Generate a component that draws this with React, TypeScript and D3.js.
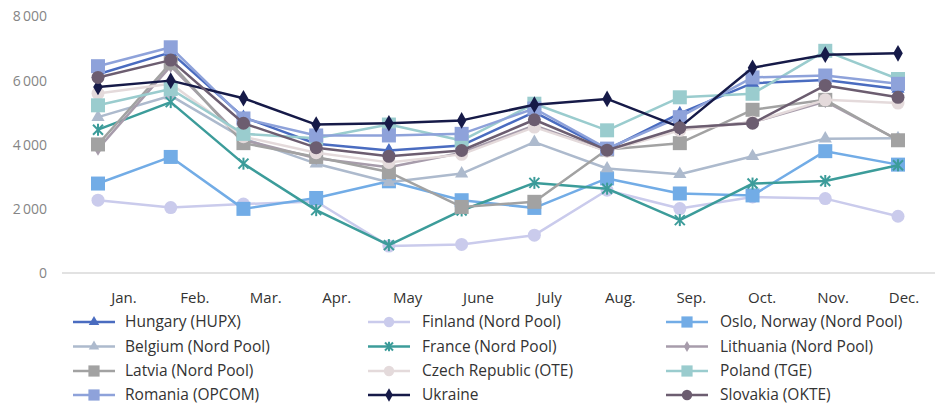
import React from "react";
import * as d3 from "d3";

const months = ["Jan.", "Feb.", "Mar.", "Apr.", "May", "June", "July", "Aug.", "Sep.", "Oct.", "Nov.", "Dec."];
const yTicks = [0, 2000, 4000, 6000, 8000];

const hungary = [6200, 6880, 4860, 4030, 3820, 3980, 5020, 3850, 4980, 5920, 6020, 5740];
const finland = [2270, 2040, 2150, 2230, 840, 890, 1180, 2580, 2010, 2370, 2320, 1770];
const oslo = [2790, 3620, 2000, 2340, 2860, 2270, 2030, 2950, 2480, 2420, 3800, 3380];
const belgium = [4860, 5530, 4200, 3410, 2830, 3100, 4080, 3260, 3080, 3640, 4190, 4200];
const france = [4470, 5330, 3410, 1960, 870, 1950, 2810, 2630, 1650, 2790, 2870, 3360];
const lithuania = [3870, 6450, 4150, 3580, 3300, 3750, 4600, 3800, 4500, 4700, 5350, 4150];
const latvia = [4010, 6550, 4050, 3620, 3150, 2060, 2220, 3850, 4050, 5090, 5400, 4140];
const czech = [5600, 5900, 4250, 3750, 3450, 3700, 4550, 3800, 4450, 4700, 5400, 5300];
const poland = [5230, 5740, 4340, 4200, 4630, 4130, 5280, 4450, 5480, 5590, 6930, 6050];
const romania = [6450, 7040, 4820, 4290, 4290, 4340, 5130, 3880, 4860, 6100, 6160, 5900];
const ukraine = [5800, 6000, 5450, 4630, 4670, 4760, 5250, 5430, 4550, 6400, 6810, 6850];
const slovakia = [6100, 6640, 4670, 3910, 3640, 3820, 4780, 3830, 4530, 4670, 5850, 5480];

type Shape = "triangle" | "circle" | "square" | "x" | "diamond" | "diamondSmall";
interface Series { name: string; values: number[]; color: string; shape: Shape; }

const series: Series[] = [
  { name: "Hungary (HUPX)", values: hungary, color: "#4a6cc0", shape: "triangle" },
  { name: "Finland (Nord Pool)", values: finland, color: "#cacbec", shape: "circle" },
  { name: "Oslo, Norway (Nord Pool)", values: oslo, color: "#72ace6", shape: "square" },
  { name: "Belgium (Nord Pool)", values: belgium, color: "#adbacd", shape: "triangle" },
  { name: "France (Nord Pool)", values: france, color: "#3c9c9a", shape: "x" },
  { name: "Lithuania (Nord Pool)", values: lithuania, color: "#a79cab", shape: "diamondSmall" },
  { name: "Latvia (Nord Pool)", values: latvia, color: "#a2a2a2", shape: "square" },
  { name: "Czech Republic (OTE)", values: czech, color: "#e4dadb", shape: "circle" },
  { name: "Poland (TGE)", values: poland, color: "#9accce", shape: "square" },
  { name: "Romania (OPCOM)", values: romania, color: "#8ea2da", shape: "square" },
  { name: "Ukraine", values: ukraine, color: "#161a48", shape: "diamond" },
  { name: "Slovakia (OKTE)", values: slovakia, color: "#6c5d70", shape: "circle" },
];

const W = 935, H = 405;
const x = d3.scalePoint<string>().domain(months).range([98, 898]);
const xLabel = d3.scalePoint<string>().domain(months).range([124, 904]);
const y = d3.scaleLinear().domain([0, 8000]).range([273, 16.5]);
const fmt = d3.formatLocale({ decimal: ".", thousands: "\u2009", grouping: [3], currency: ["", ""] }).format(",d");
const line = d3.line<number>().x((_, i) => x(months[i]) as number).y((v) => y(v));

function Marker({ shape, color, cx, cy, s = 1 }: { shape: Shape; color: string; cx: number; cy: number; s?: number }) {
  switch (shape) {
    case "triangle":
      return <path d={d3.symbol(d3.symbolTriangle, 75 * s * s)() as string} transform={`translate(${cx},${cy})`} fill={color} />;
    case "circle":
      return <circle cx={cx} cy={cy} r={6.5 * s} fill={color} />;
    case "square":
      return <rect x={cx - 7 * s} y={cy - 7 * s} width={14 * s} height={14 * s} fill={color} />;
    case "x":
      return (
        <g transform={`translate(${cx},${cy})`} stroke={color} strokeWidth={2}>
          <line x1={-5 * s} y1={-5 * s} x2={5 * s} y2={5 * s} />
          <line x1={-5 * s} y1={5 * s} x2={5 * s} y2={-5 * s} />
          <line x1={0} y1={-6 * s} x2={0} y2={6 * s} />
        </g>
      );
    case "diamond":
      return <path d={d3.symbol(d3.symbolDiamond, 80 * s * s)() as string} transform={`translate(${cx},${cy})`} fill={color} />;
    case "diamondSmall":
      return <path d={d3.symbol(d3.symbolDiamond, 55 * s * s)() as string} transform={`translate(${cx},${cy})`} fill={color} />;
  }
}

const legendCols = [73, 368, 666];
const legendText = [125, 422, 720];
const legendRows = [322, 346.5, 371, 395];

export default function App() {
  const font = "'Open Sans', 'Noto Sans', sans-serif";
  return (
    <svg width={W} height={H} style={{ position: "absolute", left: 0, top: 0, background: "#fff" }} fontFamily={font}>
      {yTicks.map((t) => (
        <text key={t} x={47} y={y(t)} dy="0.35em" textAnchor="end" fontSize={14} fill="#858585">
          {fmt(t)}
        </text>
      ))}
      <line x1={62} x2={935} y1={y(0)} y2={y(0)} stroke="#d9d9d9" strokeWidth={1.5} />
      {months.map((m) => (
        <text key={m} x={xLabel(m)} y={298} dy="0.35em" textAnchor="middle" fontSize={15} fill="#333">
          {m}
        </text>
      ))}
      {series.map((s) => (
        <g key={s.name}>
          <path d={line(s.values) as string} fill="none" stroke={s.color} strokeWidth={2.5} strokeLinejoin="round" />
          {s.values.map((v, i) => (
            <Marker key={i} shape={s.shape} color={s.color} cx={x(months[i]) as number} cy={y(v)} />
          ))}
        </g>
      ))}
      {series.map((s, i) => {
        const col = i % 3;
        const row = Math.floor(i / 3);
        const lx = legendCols[col];
        const ly = legendRows[row];
        return (
          <g key={"lg" + s.name}>
            <line x1={lx} x2={lx + 42} y1={ly} y2={ly} stroke={s.color} strokeWidth={2.5} />
            <Marker shape={s.shape} color={s.color} cx={lx + 21} cy={ly} s={0.8} />
            <text x={legendText[col]} y={ly} dy="0.33em" fontSize={15.5} fill="#333">
              {s.name}
            </text>
          </g>
        );
      })}
    </svg>
  );
}
